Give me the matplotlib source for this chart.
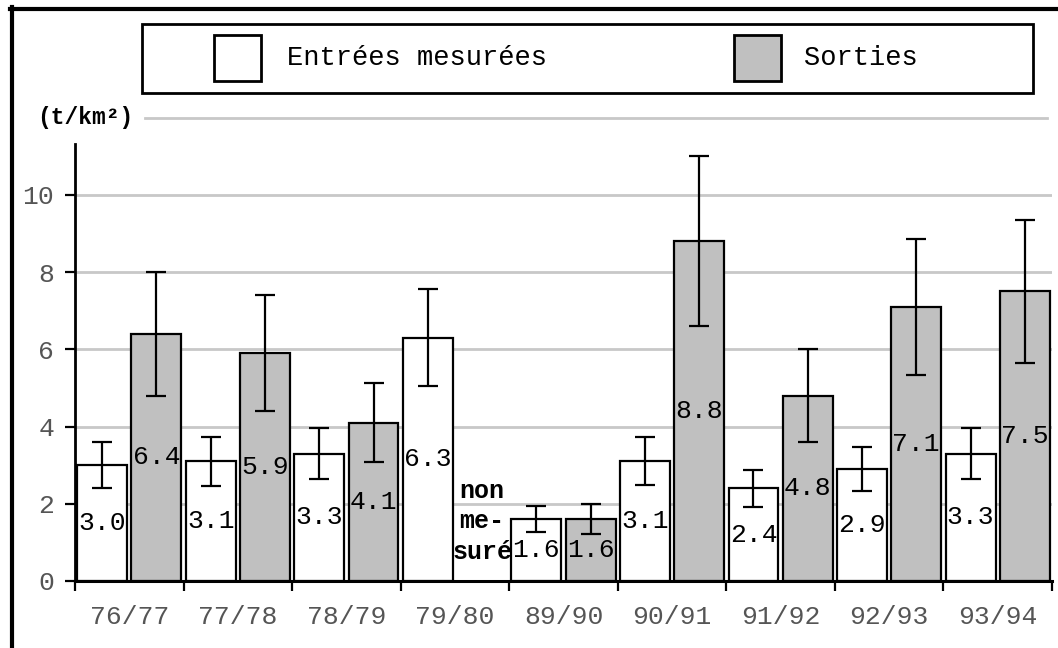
import numpy as np
import matplotlib
matplotlib.use("Agg")
import matplotlib.pyplot as plt
from matplotlib.patches import Rectangle
from matplotlib.lines import Line2D

plt.rcParams['font.family'] = ['Liberation Mono', 'DejaVu Sans Mono']

years = ['76/77', '77/78', '78/79', '79/80', '89/90', '90/91', '91/92', '92/93', '93/94']
entrees = [3.0, 3.1, 3.3, 6.3, 1.6, 3.1, 2.4, 2.9, 3.3]
entrees_err = [0.60, 0.63, 0.67, 1.26, 0.33, 0.62, 0.48, 0.57, 0.65]
sorties = [6.4, 5.9, 4.1, np.nan, 1.6, 8.8, 4.8, 7.1, 7.5]
sorties_err = [1.60, 1.50, 1.03, np.nan, 0.39, 2.20, 1.20, 1.77, 1.86]
legend_labels = ['Entrées mesurées', 'Sorties']
unit = '(t/km²)'
missing_note = 'non\nme-\nsuré'

W, H = 1058, 648
fig = plt.figure(figsize=(W / 100, H / 100), dpi=100)
fig.patch.set_facecolor('white')

ax = fig.add_axes([75 / W, 67 / H, 977 / W, (581 - 117.7) / H])
ax.set_xlim(-0.5, len(years) - 0.5)
ax.set_ylim(0, 12)

x = np.arange(len(years))
bw = 0.46
off = 0.25
grey = '#c0c0c0'

# gridlines
for g in [2, 4, 6, 8, 10]:
    ax.axhline(g, color='#c8c8c8', lw=2, zorder=0)
ax.axhline(12, xmin=(145 - 75) / 977, xmax=0.995, color='#c8c8c8', lw=2, zorder=0, clip_on=False)

ent = np.array(entrees)
sor = np.array(sorties)
ok = ~np.isnan(sor)

ax.bar(x - off, ent, bw, color='white', edgecolor='black', lw=1.6, zorder=2)
ax.bar(x[ok] + off, sor[ok], bw, color=grey, edgecolor='black', lw=1.6, zorder=2)
ax.errorbar(x - off, ent, yerr=entrees_err, fmt='none', ecolor='black',
            elinewidth=1.6, capsize=7, capthick=1.6, zorder=3)
ax.errorbar(x[ok] + off, sor[ok], yerr=np.array(sorties_err)[ok], fmt='none', ecolor='black',
            elinewidth=1.6, capsize=7, capthick=1.6, zorder=3)

for xi, v in zip(x, ent):
    ax.text(xi - off, v / 2, f'{v:.1f}', ha='center', va='center', fontsize=19, zorder=4)
for xi, v in zip(x[ok], sor[ok]):
    ax.text(xi + off, v / 2, f'{v:.1f}', ha='center', va='center', fontsize=19, zorder=4)

miss = x[~ok][0]
ax.text(miss + off, 1.55, missing_note, ha='center', va='center', fontsize=18,
        fontweight='bold', linespacing=1.35, zorder=4)

# axes styling
for s in ['top', 'right']:
    ax.spines[s].set_visible(False)
ax.spines['left'].set_bounds(0, 11.32)
ax.spines['left'].set_linewidth(2)
ax.spines['bottom'].set_linewidth(2.2)

ax.set_yticks([0, 2, 4, 6, 8, 10])
ax.tick_params(axis='y', length=7, width=1.6, pad=8, labelsize=19, labelcolor='#555555')
ax.set_xticks(np.arange(len(years) + 1) - 0.5)
ax.set_xticklabels([])
ax.set_xticks(x, minor=True)
ax.set_xticklabels(years, minor=True)
ax.tick_params(axis='x', which='major', length=7, width=1.6, direction='out')
ax.tick_params(axis='x', which='minor', length=0, pad=17, labelsize=19, labelcolor='#555555')

ax.text(37 / W, (H - 117.7) / H, unit, transform=fig.transFigure, ha='left', va='center',
        fontsize=16.5, fontweight='bold')

# legend box
fig.patches.append(Rectangle((142 / W, (H - 93) / H), (1033 - 142) / W, 69 / H,
                             transform=fig.transFigure, fill=False, ec='black', lw=2))
for (x0, col), lab, tx in zip([(214, 'white'), (734, grey)], legend_labels, [287, 804]):
    fig.patches.append(Rectangle((x0 / W, (H - 81) / H), 47 / W, 46 / H, transform=fig.transFigure,
                                 fc=col, ec='black', lw=2))
    fig.text(tx / W, (H - 58) / H, lab, ha='left', va='center', fontsize=19.5)

# outer frame (top and left)
fig.lines.append(Line2D([10 / W, 1], [(H - 8.5) / H] * 2, transform=fig.transFigure, color='black', lw=3))
fig.lines.append(Line2D([11.5 / W] * 2, [0, (H - 7) / H], transform=fig.transFigure, color='black', lw=3))

fig.savefig('out.png', dpi=100)
